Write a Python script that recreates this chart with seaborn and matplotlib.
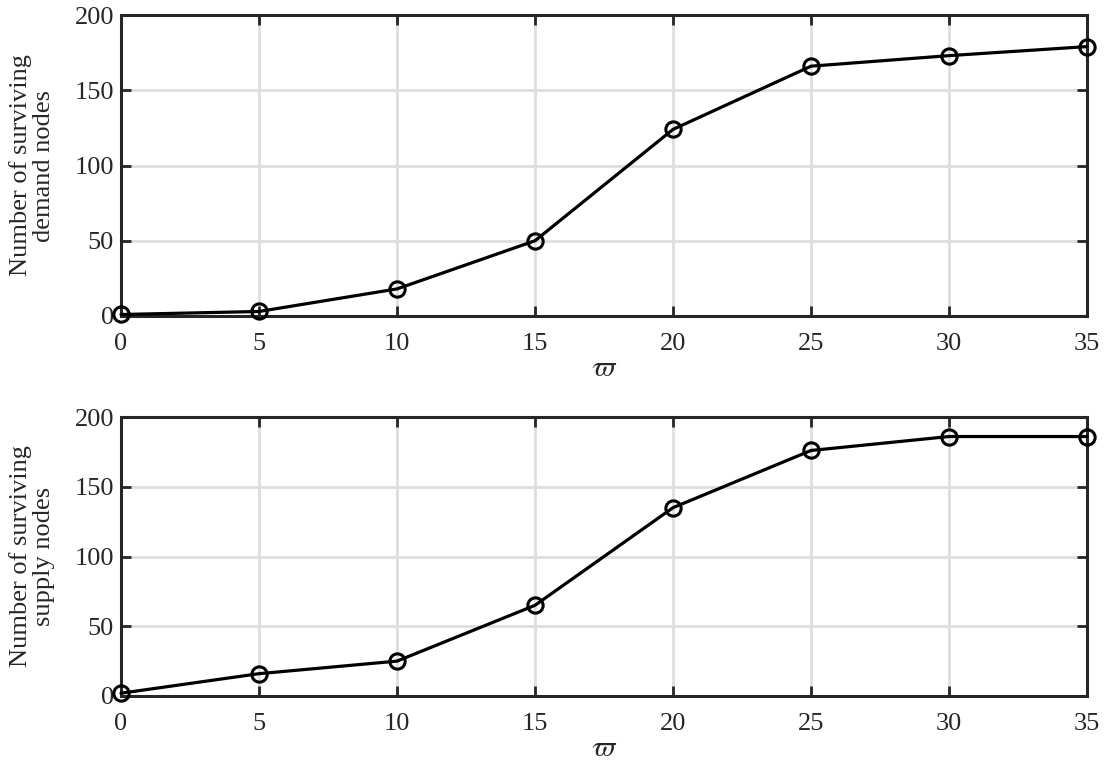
import matplotlib
matplotlib.use("Agg")
import matplotlib.pyplot as plt
import seaborn as sns
import pandas as pd

varpi = [0, 5, 10, 15, 20, 25, 30, 35]
demand_nodes = [1, 3, 18, 50, 124, 166, 173, 179]
supply_nodes = [2, 16, 25, 65, 135, 176, 186, 186]
x_ticks = [0, 5, 10, 15, 20, 25, 30, 35]
y_ticks = [0, 50, 100, 150, 200]
ylabels = ["Number of surviving\ndemand nodes", "Number of surviving\nsupply nodes"]

sns.set_theme(style="white")
plt.rcParams['font.family'] = ['Liberation Serif', 'DejaVu Serif']
plt.rcParams['mathtext.fontset'] = 'stix'

fig = plt.figure(figsize=(11.07, 7.61), dpi=100)
ax1 = fig.add_axes([121/1107, 1-316/761, (1087-121)/1107, 301/761])
ax2 = fig.add_axes([121/1107, 1-696/761, (1087-121)/1107, 279/761])

spine_col = '#262626'
for ax, vals, yl in [(ax1, demand_nodes, ylabels[0]), (ax2, supply_nodes, ylabels[1])]:
    df = pd.DataFrame({'varpi': varpi, 'n': vals})
    sns.lineplot(data=df, x='varpi', y='n', ax=ax, color='black', linewidth=2.3,
                 marker='o', markersize=11, markerfacecolor='none',
                 markeredgecolor='black', markeredgewidth=2.2, clip_on=False, zorder=5)
    ax.set_xlim(0, 35)
    ax.set_ylim(0, 200)
    ax.set_xticks(x_ticks)
    ax.set_yticks(y_ticks)
    ax.grid(True, color='#dedede', linewidth=2.0)
    ax.set_axisbelow(True)
    for s in ax.spines.values():
        s.set_color(spine_col)
        s.set_linewidth(2.2)
        s.set_visible(True)
    ax.tick_params(axis='both', which='both', direction='in', length=7, width=2.0,
                   color=spine_col, top=True, right=True, bottom=True, left=True,
                   labelsize=19, labelcolor='#262626')
    ax.tick_params(axis='x', pad=12)
    ax.tick_params(axis='y', pad=5)
    ax.set_xlabel(r'$\varpi$', fontsize=21, color='#262626', labelpad=1)
    ax.set_ylabel(yl, fontsize=19, color='#262626', labelpad=14, linespacing=1.05)

fig.savefig('out.png', dpi=100, facecolor='white')
